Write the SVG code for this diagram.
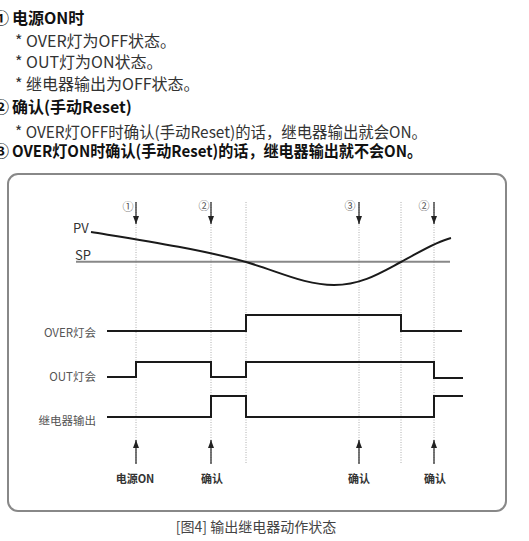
<svg xmlns="http://www.w3.org/2000/svg" width="529" height="541" viewBox="0 0 529 541">
<style>
text{font-family:"Noto Sans CJK SC","Noto Sans",sans-serif}
.body{font-size:16px;fill:#333}
.hd{font-size:16px;font-weight:bold;fill:#111}
.lbl{font-size:11.5px;fill:#555;text-anchor:end}
.num{font-size:11px;fill:#555;text-anchor:middle}
.btm{font-size:11px;font-weight:bold;fill:#333;text-anchor:middle}
.sig{fill:none;stroke:#1a1a1a;stroke-width:2}
.guide{stroke:#999;stroke-width:0.8;stroke-dasharray:1 1.5}
.arr{stroke:#222;stroke-width:1.2;marker-end:url(#ah)}
</style>
<defs>
<marker id="ah" viewBox="0 0 8 6" refX="8" refY="3" markerWidth="8" markerHeight="6" markerUnits="userSpaceOnUse" orient="auto">
<path d="M0,0 L8,3 L0,6 z" fill="#222"/>
</marker>
</defs>
<rect width="529" height="541" fill="#fff"/>
<g id="notes">
<text class="hd" x="1" y="24" text-anchor="middle">①</text>
<text class="hd" x="12" y="24">电源ON时</text>
<text class="body" x="15" y="46.5">* OVER灯为OFF状态。</text>
<text class="body" x="15" y="68">* OUT灯为ON状态。</text>
<text class="body" x="15" y="90">* 继电器输出为OFF状态。</text>
<text class="hd" x="1" y="113" text-anchor="middle">②</text>
<text class="hd" x="12" y="113">确认(手动Reset)</text>
<text class="body" x="15" y="137.5" textLength="412" lengthAdjust="spacingAndGlyphs">* OVER灯OFF时确认(手动Reset)的话，继电器输出就会ON。</text>
<text class="hd" x="1" y="157" text-anchor="middle">③</text>
<text class="hd" x="12" y="157" textLength="410" lengthAdjust="spacingAndGlyphs">OVER灯ON时确认(手动Reset)的话，继电器输出就不会ON。</text>
</g>
<g id="frame">
<rect x="8" y="174" width="498" height="337" rx="10" fill="none" stroke="#888" stroke-width="2"/>
</g>
<g id="guides">
<line class="guide" x1="136" y1="202" x2="136" y2="464"/>
<line class="guide" x1="211" y1="202" x2="211" y2="464"/>
<line class="guide" x1="246" y1="202" x2="246" y2="464"/>
<line class="guide" x1="359" y1="202" x2="359" y2="464"/>
<line class="guide" x1="401" y1="202" x2="401" y2="464"/>
<line class="guide" x1="434" y1="202" x2="434" y2="464"/>
</g>
<g id="pv-sp">
<text x="73" y="233" style="font-size:13px;fill:#333">PV</text>
<text x="75" y="259.5" style="font-size:13px;fill:#333">SP</text>
<line x1="76" y1="261.7" x2="450" y2="261.7" stroke="#888" stroke-width="2"/>
<path class="sig" d="M91,232 C140,240 200,249 246,262 C280,272 305,285 334,285 C362,285 382,272 401,262 C420,252 435,242 451,238"/>
</g>
<g id="top-events">
<text class="num" x="128" y="211">①</text>
<text class="num" x="204" y="210">②</text>
<text class="num" x="350" y="210">③</text>
<text class="num" x="424" y="210">②</text>
<line class="arr" x1="136" y1="202" x2="136" y2="224"/>
<line class="arr" x1="211" y1="202" x2="211" y2="224"/>
<line class="arr" x1="359" y1="202" x2="359" y2="224"/>
<line class="arr" x1="434" y1="202" x2="434" y2="224"/>
</g>
<g id="over-lamp">
<text class="lbl" x="96" y="337">OVER灯会</text>
<path class="sig" d="M107,331 H246 V315 H401 V331 H462"/>
</g>
<g id="out-lamp">
<text class="lbl" x="96" y="381">OUT灯会</text>
<path class="sig" d="M107,377 H136 V362 H211 V377 H246 V362 H434 V378 H463"/>
</g>
<g id="relay">
<text class="lbl" x="96" y="425">继电器输出</text>
<path class="sig" d="M107,417 H211 V396 H246 V417 H434 V396 H463"/>
</g>
<g id="bottom-events">
<line class="arr" x1="136" y1="464" x2="136" y2="440"/>
<line class="arr" x1="211" y1="464" x2="211" y2="440"/>
<line class="arr" x1="359" y1="464" x2="359" y2="440"/>
<line class="arr" x1="434" y1="464" x2="434" y2="440"/>
<text class="btm" x="135" y="483">电源ON</text>
<text class="btm" x="212" y="483">确认</text>
<text class="btm" x="359" y="483">确认</text>
<text class="btm" x="435" y="483">确认</text>
</g>
<g id="caption">
<text x="256" y="532" text-anchor="middle" style="font-size:14px;fill:#444">[图4] 输出继电器动作状态</text>
</g>
</svg>
